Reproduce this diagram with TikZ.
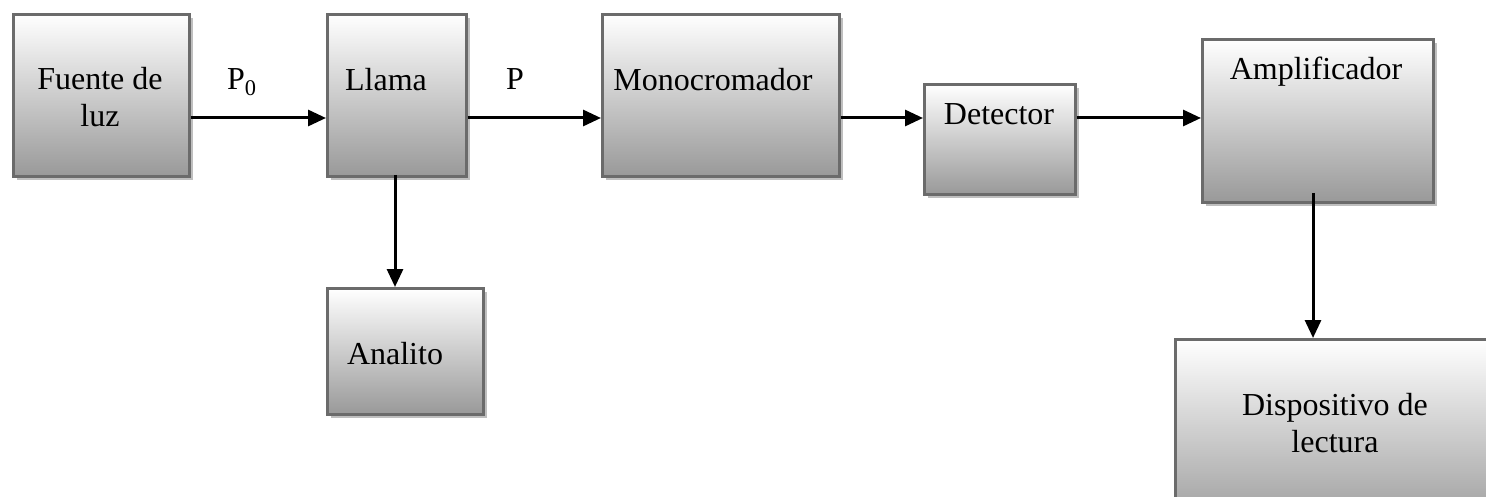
\documentclass[tikz,border=0pt]{standalone}
\usepackage{fontspec}
\setmainfont{Liberation Serif}
\usetikzlibrary{shadows,arrows.meta}
\begin{document}
\begin{tikzpicture}[x=0.5pt,y=-0.5pt,
  blk/.style={draw=black!58, line width=1.3pt, top color=white, bottom color=black!40,
    drop shadow={shadow xshift=1.8pt, shadow yshift=-1.8pt, fill=black!25, opacity=1},
    anchor=north west, inner sep=0pt},
  lbl/.style={font=\fontsize{16}{18.5}\selectfont, anchor=base, inner sep=0pt, align=center},
  arr/.style={line width=1.5pt, -{Triangle[length=9pt,width=8pt]}}]
\useasboundingbox (0,0) rectangle (1486,497);

% blocks
\node[blk, minimum width=88pt,    minimum height=81pt]   (fuente)  at (12,13)   {};
\node[blk, minimum width=69.5pt,  minimum height=81pt]   (llama)   at (326,13)  {};
\node[blk, minimum width=78pt,    minimum height=63pt]   (analito) at (326,287) {};
\node[blk, minimum width=118.5pt, minimum height=81pt]   (mono)    at (601,13)  {};
\node[blk, minimum width=75.5pt,  minimum height=55pt]   (det)     at (923,83)  {};
\node[blk, minimum width=115.5pt, minimum height=81.5pt] (amp)     at (1201,38) {};
\node[blk, minimum width=173pt,   minimum height=96pt]   (disp)    at (1174,338) {};

% labels (base anchor sits on the last line)
\node[lbl] (tfuente)  at (100,127) {Fuente de\\luz};
\node[lbl] (tllama)   at (386,91)  {Llama};
\node[lbl] (tanalito) at (395,364) {Analito};
\node[lbl] (tmono)    at (713,91)  {Monocromador};
\node[lbl] (tdet)     at (999,125) {Detector};
\node[lbl] (tamp)     at (1316,80) {Amplificador};
\node[lbl] (tdisp)    at (1335,452) {Dispositivo de\\lectura};
\node[lbl] (tp0)      at (242,90)  {P\textsubscript{0}};
\node[lbl] (tp)       at (515,90)  {P};

% connectors
\coordinate (row) at (0,118);
\draw[arr] (fuente.east |- row) -- (llama.west |- row);
\draw[arr] (llama.east |- row) -- (mono.west |- row);
\draw[arr] (mono.east |- row) -- (det.west |- row);
\draw[arr] (det.east |- row) -- (amp.west |- row);
\coordinate (lldown) at (395,175);
\draw[arr] (lldown) -- (lldown |- analito.north);
\coordinate (ampdown) at (1313,193);
\draw[arr] (ampdown) -- (ampdown |- disp.north);
\end{tikzpicture}
\end{document}
